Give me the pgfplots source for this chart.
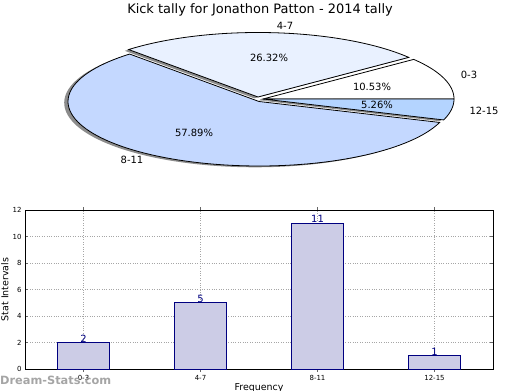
\documentclass[border=0pt]{standalone}
\usepackage{pgfplots}
\pgfplotsset{compat=1.18}
\usepackage{fontspec}
\setmainfont{DejaVu Sans}
\definecolor{cA}{RGB}{255,255,255}
\definecolor{cB}{RGB}{233,241,255}
\definecolor{cC}{RGB}{196,216,255}
\definecolor{cD}{RGB}{180,212,255}
\definecolor{barfill}{RGB}{204,204,230}
\definecolor{navyc}{RGB}{0,0,128}
\definecolor{wm}{RGB}{155,155,155}
% #1 start angle, #2 end angle, #3 dx, #4 dy (explode offset), #5 style, #6 shadow flag
\newcommand\pieslice[6]{%
  \pgfmathsetmacro\ox{263+#3+#6*(-3.8)}%
  \pgfmathsetmacro\oy{291+#4+#6*(-1.3)}%
  \edef\tmp{\noexpand\addplot[#5, domain=#1:#2, samples=90]
     ({\ox+191*cos(x)},{\oy+64.5*sin(x)}) -- (axis cs:\ox,\oy) -- cycle;}%
  \tmp}
\begin{document}
\begin{tikzpicture}[x=1bp,y=1bp]
% pie data: 0-3, 4-7, 8-11, 12-15
\def\vA{2}\def\vB{5}\def\vC{11}\def\vD{1}
\pgfmathsetmacro\tot{\vA+\vB+\vC+\vD}
\pgfmathsetmacro\aB{360*\vA/\tot}
\pgfmathsetmacro\aC{\aB+360*\vB/\tot}
\pgfmathsetmacro\aD{\aC+360*\vC/\tot}
\begin{axis}[at={(0bp,0bp)}, anchor=south west, scale only axis, width=520bp, height=390bp,
  xmin=0, xmax=520, ymin=0, ymax=390, hide axis, clip=false]
% shadows
\pieslice{0}{\aB}{0}{0}{draw=none, fill=black!45}{1}
\pieslice{\aB}{\aC}{-5}{2}{draw=none, fill=black!45}{1}
\pieslice{\aC}{\aD}{-4}{-2.5}{draw=none, fill=black!45}{1}
\pieslice{\aD}{360}{0}{0}{draw=none, fill=black!45}{1}
% wedges
\pieslice{0}{\aB}{0}{0}{draw=black, line width=0.8bp, fill=cA}{0}
\pieslice{\aB}{\aC}{-5}{2}{draw=black, line width=0.8bp, fill=cB}{0}
\pieslice{\aC}{\aD}{-4}{-2.5}{draw=black, line width=0.8bp, fill=cC}{0}
\pieslice{\aD}{360}{0}{0}{draw=black, line width=0.8bp, fill=cD}{0}
\end{axis}
\begin{scope}[every node/.style={font=\fontsize{10}{12}\selectfont, inner sep=0pt}]
\node at (285,364) {4-7};
\node at (269,332) {26.32\%};
\node at (469,315) {0-3};
\node at (372,303) {10.53\%};
\node at (377,285) {5.26\%};
\node at (484,279) {12-15};
\node at (194,257) {57.89\%};
\node at (132,230) {8-11};
\end{scope}
\node[font=\fontsize{13}{15}\selectfont, inner sep=0pt] at (260,380) {Kick tally for Jonathon Patton - 2014 tally};
\begin{axis}[at={(25bp,21bp)}, anchor=south west, scale only axis, width=468bp, height=159bp,
  /pgf/number format/assume math mode=true,
  xmin=-0.5, xmax=3.5, ymin=0, ymax=12, ytick={0,2,...,12}, xtick={0,1,2,3},
  xticklabels={0-3,4-7,8-11,12-15},
  grid=major, grid style={dotted, black!35, line width=0.7bp},
  tick align=inside, major tick length=3bp, tick style={black!60},
  tick label style={font=\fontsize{7}{8}\selectfont},
  ylabel={Stat Intervals}, xlabel={Frequency},
  label style={font=\fontsize{9.5}{11}\selectfont},
  y label style={at={(axis description cs:-0.043,0.5)}, anchor=center},
  x label style={at={(axis description cs:0.5,-0.12)}, anchor=center},
  axis line style={black, line width=0.8bp},
  ybar, bar width=0.45,
  nodes near coords,
  nodes near coords style={navyc, font=\fontsize{10}{11}\selectfont, anchor=base, yshift=0.3bp, inner sep=0pt}]
\addplot[fill=barfill, draw=navyc, line width=0.8bp] coordinates {(0,2) (1,5) (2,11) (3,1)};
\end{axis}
\node[anchor=west, font=\bfseries\fontsize{11.4}{13}\selectfont, text=wm, opacity=0.9, inner sep=0pt] at (0,10) {Dream-Stats.com};
\pgfresetboundingbox
\path[use as bounding box] (0,0) rectangle (520,390);
\end{tikzpicture}
\end{document}
